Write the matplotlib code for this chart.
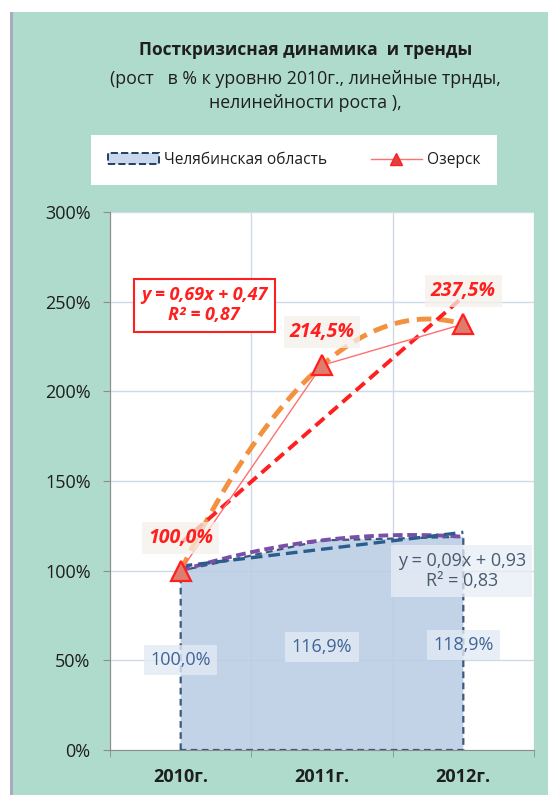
import matplotlib
matplotlib.use("Agg")
import matplotlib.pyplot as plt
import numpy as np
from matplotlib.patches import Rectangle, Patch
from matplotlib.lines import Line2D

plt.rcParams["font.family"] = ["Open Sans", "DejaVu Sans"]

# ── Data ──────────────────────────────────────────────────────────────────────
years = ["2010г.", "2011г.", "2012г."]
chel = [100.0, 116.9, 118.9]       # Челябинская область, %
ozersk = [100.0, 214.5, 237.5]     # Озерск, %
chel_labels = ["100,0%", "116,9%", "118,9%"]
oz_labels = ["100,0%", "214,5%", "237,5%"]
chel_eq = "y = 0,09x + 0,93\nR² = 0,83"
oz_eq = "y = 0,69x + 0,47\nR² = 0,87"

# ── Colours ───────────────────────────────────────────────────────────────────
C_PANEL = "#AFDBCD"
C_AREA = "#B8CCE4"
C_NAVY = "#1F3F66"
C_PURPLE = "#7A4FA8"
C_RED = "#FF1F1F"
C_ORANGE = "#F3913F"
C_GRID = "#CFDAE8"
C_TEXT = "#1E1E1E"

fig = plt.figure(figsize=(5.51, 8.0), dpi=100)
fig.patch.set_facecolor("white")

# teal background panel
fig.patches.append(Rectangle((10 / 551, 5 / 800), 538 / 551, 783 / 800,
                             transform=fig.transFigure, facecolor=C_PANEL,
                             edgecolor="none", zorder=-2))
fig.patches.append(Rectangle((10 / 551, 5 / 800), 3 / 551, 783 / 800,
                             transform=fig.transFigure, facecolor="#A9A9C0",
                             edgecolor="none", zorder=-1))

ax = fig.add_axes([110 / 551, 50 / 800, 424 / 551, 538 / 800])
ax.set_zorder(1)
ax.set_facecolor("white")

x = np.arange(len(years))

# area series
ax.fill_between(x, chel, 0, facecolor=C_AREA, alpha=0.85,
                edgecolor=C_NAVY, linestyle=(0, (3, 2)), linewidth=1.6, zorder=2)

# trend lines (fitted on x = 1..3 like Excel)
xe = x + 1
xs = np.linspace(0, 2, 60)
lin_c = np.polyfit(xe, chel, 1)
poly_c = np.polyfit(xe, chel, 2)
lin_o = np.polyfit(xe, ozersk, 1)
poly_o = np.polyfit(xe, ozersk, 2)

ax.plot(xs, np.polyval(poly_c, xs + 1), color=C_PURPLE, lw=2.8,
        ls=(0, (2.5, 1.2)), zorder=3)
ax.plot(x, np.polyval(lin_c, xe), color="#2B5C8E", lw=2.4,
        ls=(0, (3.5, 1.8)), zorder=3)
ax.plot(xs, np.polyval(poly_o, xs + 1), color=C_ORANGE, lw=3.5,
        ls=(0, (3.0, 1.6)), zorder=4)
ax.plot(x, np.polyval(lin_o, xe), color=C_RED, lw=2.8,
        ls=(0, (3.0, 1.6)), zorder=4)

# Ozersk series
ax.plot(x, ozersk, color="#FF6F6F", lw=1.0, marker="^", markersize=14,
        markerfacecolor="#DE7D6E", markeredgecolor=C_RED, markeredgewidth=1.6,
        zorder=6)

# data labels
oz_pos = [(0, 118.2), (1, 233.0), (2, 256.0)]
for (px, py), lab in zip(oz_pos, oz_labels):
    ax.text(px, py, lab, ha="center", va="center", fontsize=14,
            fontweight="bold", style="italic", color=C_RED, zorder=7,
            bbox=dict(boxstyle="square,pad=0.3", facecolor="#F5F1EA",
                      edgecolor="none", alpha=0.75))
chel_pos = [(0, 50.2), (1, 57.4), (2, 58.5)]
for (px, py), lab in zip(chel_pos, chel_labels):
    ax.text(px, py, lab, ha="center", va="center", fontsize=13,
            color="#3F6497", zorder=7,
            bbox=dict(boxstyle="square,pad=0.35", facecolor="#E2EAF4",
                      edgecolor="none", alpha=0.8))

# trend equations
ax.text(1.99, 99.8, chel_eq, ha="center", va="center", fontsize=13,
        color="#4A5A6E", linespacing=1.2, zorder=5,
        bbox=dict(boxstyle="square,pad=0.35", facecolor="#E8EEF6",
                  edgecolor="none", alpha=0.75))
ax.text(0.167, 247.9, oz_eq, ha="center", va="center", fontsize=13,
        fontweight="bold", style="italic", color=C_RED, linespacing=1.15,
        zorder=7,
        bbox=dict(boxstyle="square,pad=0.4", facecolor="white",
                  edgecolor=C_RED, linewidth=1.5))

# axes styling
ax.set_xlim(-0.5, 2.5)
ax.set_ylim(0, 300)
ax.set_yticks(np.arange(0, 301, 50))
ax.set_yticklabels([f"{v}%" for v in range(0, 301, 50)])
ax.set_xticks(x)
ax.set_xticklabels(years, fontweight="bold")
ax.set_xticks(np.arange(-0.5, 2.6, 1), minor=True)
ax.tick_params(axis="x", which="major", length=0, pad=13, labelsize=13,
               labelcolor=C_TEXT)
ax.tick_params(axis="x", which="minor", length=5, color="#8C8C8C")
ax.tick_params(axis="y", length=5, pad=9, labelsize=13, color="#8C8C8C",
               labelcolor=C_TEXT)
ax.grid(axis="y", color=C_GRID, lw=1.0, zorder=0)
ax.grid(axis="x", which="minor", color=C_GRID, lw=1.0, zorder=0)
ax.set_axisbelow(True)
for side in ["top", "right"]:
    ax.spines[side].set_visible(False)
for side in ["left", "bottom"]:
    ax.spines[side].set_color("#8C8C8C")

# title
fig.text(0.554, 1 - 50 / 800, "Посткризисная динамика  и тренды",
         ha="center", va="center", fontsize=12.5, fontweight="bold",
         color=C_TEXT)
fig.text(0.554, 1 - 91 / 800,
         "(рост   в % к уровню 2010г., линейные трнды,\nнелинейности роста ),",
         ha="center", va="center", fontsize=12.8, color=C_TEXT,
         linespacing=1.45)

# legend
handles = [Patch(facecolor="#C9D8EC", edgecolor=C_NAVY, linestyle="--",
                 linewidth=1.4),
           Line2D([], [], color="#FF6F6F", lw=1.0, marker="^", markersize=9,
                  markerfacecolor="#E04040", markeredgecolor=C_RED)]
leg = fig.legend(handles, ["Челябинская область", "Озерск"], ncol=2,
                 loc="center", bbox_to_anchor=(294 / 551, 1 - 160 / 800),
                 fontsize=11.2, frameon=True, fancybox=False, borderpad=1.1,
                 columnspacing=2.8, handlelength=3.3, handletextpad=0.3,
                 borderaxespad=0)
leg.get_frame().set_facecolor("white")
leg.get_frame().set_edgecolor("none")
leg.get_frame().set_alpha(1)
for t in leg.get_texts():
    t.set_color(C_TEXT)

fig.savefig("out.png", dpi=100)
